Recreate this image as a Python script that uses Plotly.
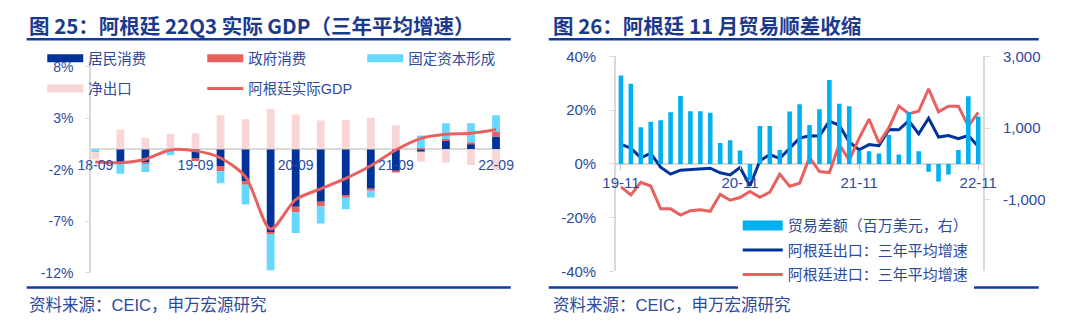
import plotly.graph_objects as go

# ---------------- Left chart data (图 25) ----------------
quarters = ["18-09", "18-12", "19-03", "19-06", "19-09", "19-12", "20-03", "20-06", "20-09",
            "20-12", "21-03", "21-06", "21-09", "21-12", "22-03", "22-06", "22-09"]
household = [0.0, -1.4, -1.3, 0.0, -0.85, -1.65, -3.15, -8.05, -5.6, -5.1, -4.45, -3.85, -2.15, -0.25, 0.78, 0.52, 1.23]
government = [0.0, 0.0, -0.15, 0.0, -0.3, -0.5, -0.3, -0.2, -0.55, -0.45, -0.28, -0.18, -0.1, 0.12, 0.2, 0.15, 0.43]
gfcf = [-0.3, -1.0, -0.77, -0.6, 0.0, -1.16, -1.93, -3.5, -2.0, -1.68, -1.1, -0.67, 0.0, 1.2, 1.53, 1.84, 1.62]
net_exports = [-0.7, 1.9, 1.08, 1.5, 1.54, 3.29, 2.89, 3.9, 3.35, 2.77, 2.82, 3.04, 2.31, -0.98, -1.31, -1.53, -2.08]
gdp = [-1.25, -1.32, -0.98, -0.08, -0.17, -0.86, -2.7, -7.75, -4.9, -3.85, -2.84, -1.62, -0.08, 1.05, 1.44, 1.54, 1.9]
left_ticks = ["18-09", "19-09", "20-09", "21-09", "22-09"]
left_yticks = [-12, -7, -2, 3, 8]

# ---------------- Right chart data (图 26) ----------------
months = ["19-11", "19-12",
          "20-01", "20-02", "20-03", "20-04", "20-05", "20-06", "20-07", "20-08", "20-09", "20-10", "20-11", "20-12",
          "21-01", "21-02", "21-03", "21-04", "21-05", "21-06", "21-07", "21-08", "21-09", "21-10", "21-11", "21-12",
          "22-01", "22-02", "22-03", "22-04", "22-05", "22-06", "22-07", "22-08", "22-09", "22-10", "22-11"]
trade_balance = [2470, 2235, 1026, 1177, 1220, 1441, 1899, 1468, 1468, 1431, 585, 660, 378, -450,
                 1061, 1061, 390, 1465, 1668, 1088, 1529, 2341, 1680, 1608, 370, 357,
                 290, 811, 265, 1442, 357, -220, -490, -295, 390, 1890, 1325]
exports_growth = [7.3, 5.9, 2.3, 3.9, -1.2, -3.8, -2.3, -2.1, -2.0, -1.6, -3.3, -4.1, -1.3, -8.1,
                  1.2, 3.5, 2.0, 5.8, 9.6, 10.5, 10.4, 15.9, 14.4, 8.2, 5.3, 7.2,
                  6.8, 12.8, 12.7, 16.1, 11.2, 17.0, 10.0, 10.6, 9.4, 10.6, 6.5]
imports_growth = [-8.5, -11.5, -6.8, -8.2, -16.7, -16.7, -19.0, -17.4, -17.0, -17.6, -11.3, -13.5, -12.5, -10.2,
                  -12.4, -10.5, -3.8, -8.3, -7.2, 2.5, -2.8, -3.2, 7.3, 1.3, 9.6, 16.7,
                  7.8, 13.5, 21.5, 18.7, 19.6, 27.9, 19.4, 21.5, 21.5, 14.1, 19.2]
right_ticks = ["19-11", "20-11", "21-11", "22-11"]
right_yticks = [-40, -20, 0, 20, 40]
right_y2ticks = [-1000, 1000, 3000]

# ---------------- Styles ----------------
W, H = 1080, 331
NAVY = "#003399"
RED = "#E8605F"
CYAN_L = "#66D8FF"
PINK = "#F9D5D5"
CYAN_R = "#00B0F0"
TXT = "#2C4A9E"
TITLE = "#1B3A8E"
RULE = "#0F3C97"
AXIS = "#D9D9D9"
FONT = "Arial, 'Liberation Sans', 'Noto Sans CJK SC', sans-serif"
CJK = "'Noto Sans CJK SC', sans-serif"


def px_x(p):
    return p / W


def px_y(p):
    return 1 - p / H


# plot-area geometry (pixels)
L_DOM_X = [px_x(79), px_x(500)]
L_DOM_Y = [px_y(278), px_y(50)]
L_RANGE = [-12, 9]
R_DOM_X = [px_x(618), px_x(995)]
R_DOM_Y = [px_y(276.7), px_y(50)]
R_RANGE = [-40, 40]
R2_RANGE = [-3000, 3000]


def zero_pos(dom, rng):
    return dom[0] + (dom[1] - dom[0]) * (0 - rng[0]) / (rng[1] - rng[0])


fig = go.Figure()

# ---- left bars ----
bar_specs = [("居民消费", household, NAVY), ("政府消费", government, RED),
             ("固定资本形成", gfcf, CYAN_L), ("净出口", net_exports, PINK)]
for name, vals, col in bar_specs:
    fig.add_trace(go.Bar(x=quarters, y=vals, name=name, marker=dict(color=col, line=dict(width=0)),
                         width=0.31, xaxis="x", yaxis="y", showlegend=False, legendgroup=name))

fig.add_trace(go.Scatter(x=quarters, y=gdp, name="阿根廷实际GDP", mode="lines",
                         line=dict(color=RED, width=3, shape="spline", smoothing=0.8),
                         xaxis="x", yaxis="y", legend="legend2", legendrank=2000))

# legend proxies for bars (wide rectangles)
for i, (name, vals, col) in enumerate(bar_specs):
    fig.add_trace(go.Scatter(x=[None], y=[None], mode="lines", name=name, legendgroup=name,
                             line=dict(color=col, width=8), xaxis="x", yaxis="y",
                             legend="legend" if i < 3 else "legend2", legendrank=1000))

# ---- right chart ----
fig.add_trace(go.Bar(x=months, y=trade_balance, name="贸易差额（百万美元，右）",
                     marker=dict(color=CYAN_R, line=dict(width=0)), width=0.46,
                     xaxis="x2", yaxis="y3", showlegend=False, legendgroup="tb"))
fig.add_trace(go.Scatter(x=[None], y=[None], mode="lines", name="贸易差额（百万美元，右）", legendgroup="tb",
                         line=dict(color=CYAN_R, width=10), xaxis="x2", yaxis="y2", legend="legend3",
                         legendrank=1))
fig.add_trace(go.Scatter(x=months, y=exports_growth, name="阿根廷出口：三年平均增速", mode="lines",
                         line=dict(color=NAVY, width=3), xaxis="x2", yaxis="y2", legend="legend3",
                         legendrank=2, legendgroup="ex"))
fig.add_trace(go.Scatter(x=months, y=imports_growth, name="阿根廷进口：三年平均增速", mode="lines",
                         line=dict(color=RED, width=3), xaxis="x2", yaxis="y2", legend="legend3",
                         legendrank=3, legendgroup="im"))

tickfont_l = dict(family=FONT, size=14, color=TXT)
tickfont_r = dict(family=FONT, size=15, color=TXT)

fig.update_layout(
    width=W, height=H,
    margin=dict(l=0, r=0, t=0, b=0),
    paper_bgcolor="white", plot_bgcolor="white",
    barmode="relative",
    font=dict(family=FONT, color=TXT),
    xaxis=dict(domain=L_DOM_X, type="category", categoryorder="array", categoryarray=quarters,
               range=[-0.175, 16.2], tickmode="array", tickvals=left_ticks, tickangle=0,
               anchor="free", position=zero_pos(L_DOM_Y, L_RANGE),
               showline=False, showgrid=False, zeroline=False, ticks="", ticklabelstandoff=6,
               tickfont=tickfont_l),
    yaxis=dict(domain=L_DOM_Y, range=L_RANGE, tickmode="array", tickvals=left_yticks,
               ticktext=[f"{v}%" for v in left_yticks],
               showline=True, linecolor=AXIS, linewidth=1.5, ticks="outside", ticklen=4, tickcolor=AXIS,
               showgrid=False, zeroline=True, zerolinecolor=AXIS, zerolinewidth=1.5,
               tickfont=tickfont_l, ticklabelstandoff=9, anchor="x"),
    xaxis2=dict(domain=R_DOM_X, type="category", categoryorder="array", categoryarray=months,
                range=[-0.5, 36.5], tickmode="array", tickvals=right_ticks, tickangle=0,
                anchor="free", position=zero_pos(R_DOM_Y, R_RANGE),
                showline=False, showgrid=False, zeroline=False, ticks="outside", ticklen=5,
                tickcolor="#BFBFBF", ticklabelstandoff=0, tickfont=tickfont_r),
    yaxis2=dict(domain=R_DOM_Y, range=R_RANGE, tickmode="array", tickvals=right_yticks,
                ticktext=[f"{v}%" for v in right_yticks],
                showline=True, linecolor=AXIS, linewidth=1.5, ticks="outside", ticklen=5, tickcolor=AXIS,
                showgrid=False, zeroline=True, zerolinecolor=AXIS, zerolinewidth=1.5,
                tickfont=tickfont_r, ticklabelstandoff=10, anchor="x2"),
    yaxis3=dict(domain=R_DOM_Y, range=R2_RANGE, tickmode="array", tickvals=right_y2ticks,
                ticktext=[f"{v:,}" for v in right_y2ticks],
                overlaying="y2", side="right", anchor="x2",
                showline=True, linecolor=AXIS, linewidth=1.5, ticks="outside", ticklen=5, tickcolor=AXIS,
                showgrid=False, zeroline=False, tickfont=tickfont_r, ticklabelstandoff=10),
    legend=dict(orientation="h", x=px_x(29), y=px_y(52), xanchor="left", yanchor="middle",
                entrywidth=109, entrywidthmode="pixels", bgcolor="rgba(0,0,0,0)",
                font=dict(family=FONT, size=14.5, color=TXT), itemwidth=36, traceorder="normal"),
    legend2=dict(orientation="h", x=px_x(29), y=px_y(84), xanchor="left", yanchor="middle",
                 entrywidth=109, entrywidthmode="pixels", bgcolor="rgba(0,0,0,0)",
                 font=dict(family=FONT, size=14.5, color=TXT), itemwidth=36, traceorder="normal"),
    legend3=dict(orientation="v", x=px_x(743), y=px_y(211), xanchor="left", yanchor="top",
                 bgcolor="white", font=dict(family=FONT, size=15, color=TXT), itemwidth=40,
                 traceorder="grouped", tracegroupgap=2),
    showlegend=True,
)

# ---- titles, rules and source notes ----
titles = [("图 25：阿根廷 22Q3 实际 GDP（三年平均增速）", 13), ("图 26：阿根廷 11 月贸易顺差收缩", 551)]
for text, x0 in titles:
    fig.add_annotation(text="<b>" + text + "</b>", x=px_x(x0), y=px_y(17), xref="paper", yref="paper",
                       xanchor="left", yanchor="middle", showarrow=False,
                       font=dict(family=CJK, size=20.5, color=TITLE))
    fig.add_annotation(text="资料来源：CEIC，申万宏源研究", x=px_x(x0), y=px_y(312), xref="paper", yref="paper",
                       xanchor="left", yanchor="middle", showarrow=False,
                       font=dict(family=FONT, size=16.5, color=TXT))

for xa, xb in [(13, 510), (549, 1052)]:
    for yy in (32, 293.5):
        fig.add_shape(type="line", xref="paper", yref="paper", x0=px_x(xa), x1=px_x(xb),
                      y0=px_y(yy), y1=px_y(yy), line=dict(color=RULE, width=2.5))

fig.write_html("out.html")
